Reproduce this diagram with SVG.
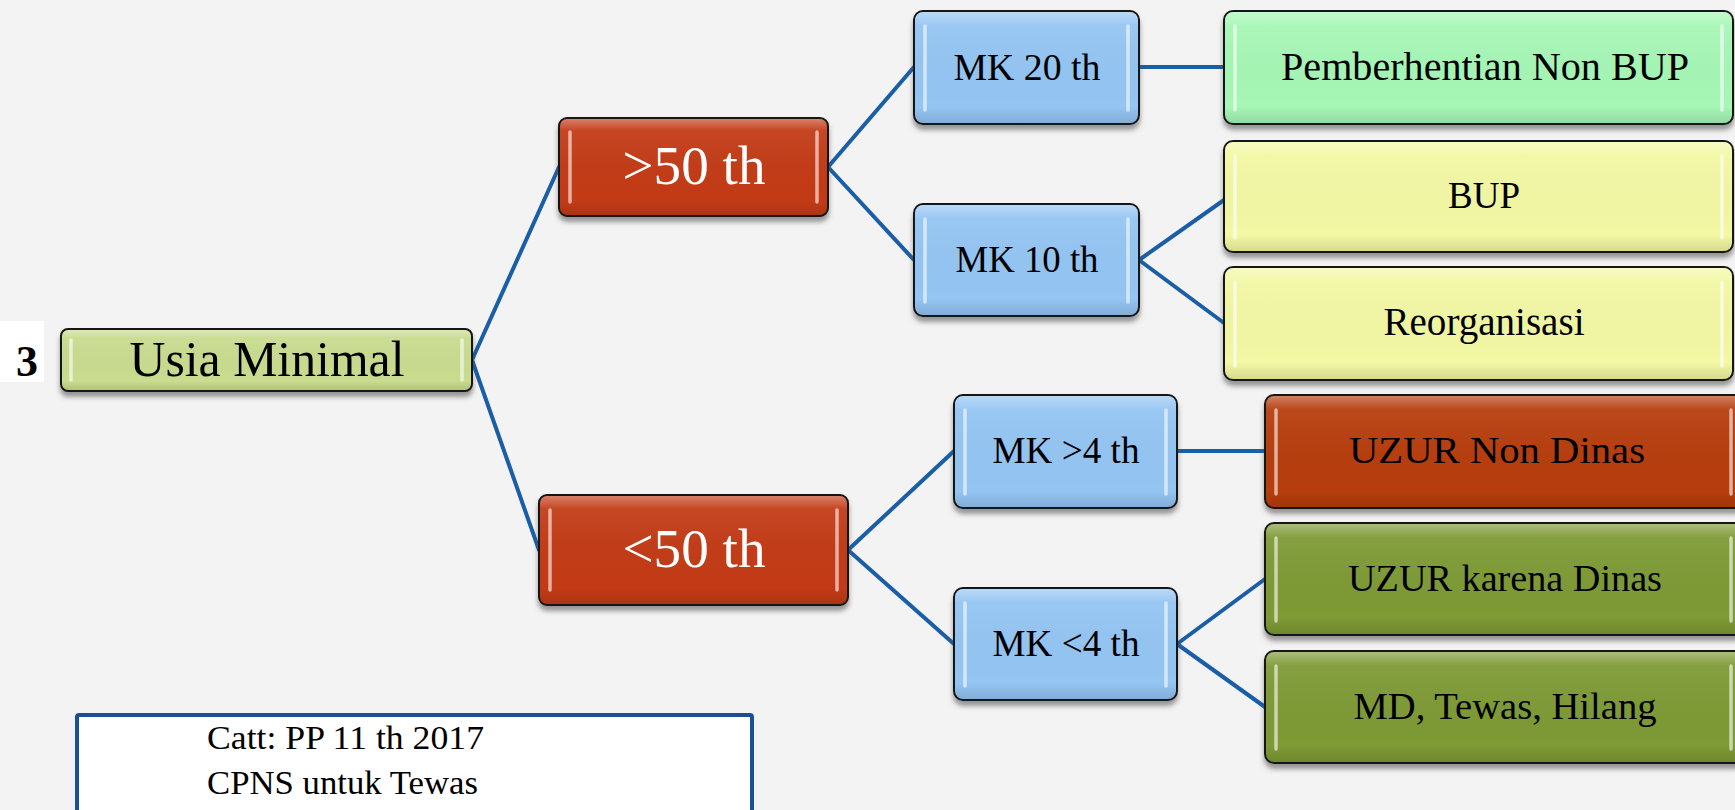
<svg xmlns="http://www.w3.org/2000/svg" width="1735" height="810" viewBox="0 0 1735 810">
  <defs>
    <filter id="shadow" x="-10%" y="-20%" width="120%" height="150%">
      <feDropShadow dx="0" dy="5" stdDeviation="2.5" flood-color="#4a4a4a" flood-opacity="0.55"/>
    </filter>
    <linearGradient id="gloss" x1="0" y1="0" x2="0" y2="1">
      <stop offset="0" stop-color="#ffffff" stop-opacity="0.35"/>
      <stop offset="0.12" stop-color="#ffffff" stop-opacity="0.06"/>
      <stop offset="0.85" stop-color="#000000" stop-opacity="0"/>
      <stop offset="1" stop-color="#000000" stop-opacity="0.12"/>
    </linearGradient>
    <style>
      .box { stroke: #141414; stroke-width: 2; }
      .gl { fill: url(#gloss); stroke: none; }
      .hl { stroke: #ffffff; stroke-opacity: 0.6; stroke-width: 3.5; stroke-linecap: round; fill: none; }
      .t { font-family: "Liberation Serif", "Times New Roman", serif; text-anchor: middle; fill: #000000; }
      .w { fill: #ffffff; }
      .link { stroke: #1a5ea8; stroke-width: 4; fill: none; stroke-linecap: round; }
      .red { fill: #c33a12; }
      .blue { fill: #94c5f3; }
      .olive { fill: #c9dc8f; }
      .mint { fill: #a6f7b6; }
      .yellow { fill: #f2f8a4; }
      .rust { fill: #b73c0b; }
      .moss { fill: #7e9a35; }
    </style>
  </defs>

  <!-- page background -->
  <rect x="0" y="0" width="1735" height="810" fill="#f3f3f3"/>

  <!-- connectors -->
  <g id="connectors">
    <line class="link" x1="472" y1="360" x2="559" y2="167"/>
    <line class="link" x1="472" y1="360" x2="539" y2="550"/>
    <line class="link" x1="828" y1="167" x2="914" y2="67"/>
    <line class="link" x1="828" y1="167" x2="914" y2="260"/>
    <line class="link" x1="1139" y1="67" x2="1224" y2="67" stroke-width="6"/>
    <line class="link" x1="1139" y1="260" x2="1224" y2="200"/>
    <line class="link" x1="1139" y1="260" x2="1224" y2="323"/>
    <line class="link" x1="848" y1="550" x2="954" y2="451"/>
    <line class="link" x1="848" y1="550" x2="954" y2="644"/>
    <line class="link" x1="1177" y1="451" x2="1265" y2="451" stroke-width="5"/>
    <line class="link" x1="1177" y1="644" x2="1265" y2="579"/>
    <line class="link" x1="1177" y1="644" x2="1265" y2="707"/>
  </g>

  <!-- item number -->
  <g id="n-number">
    <rect x="0" y="321" width="44" height="61" fill="#ffffff"/>
    <text class="t" x="27" y="376" font-size="44" font-weight="bold">3</text>
  </g>

  <!-- root -->
  <g id="n-usia">
    <rect class="box olive" x="61" y="329" width="411" height="62" rx="7" filter="url(#shadow)"/>
    <rect class="gl" x="62" y="330" width="409" height="60" rx="6"/>
    <line class="hl" x1="71" y1="340" x2="71" y2="380"/>
    <line class="hl" x1="462" y1="340" x2="462" y2="380"/>
    <text class="t" x="267" y="376" font-size="50" textLength="275" lengthAdjust="spacingAndGlyphs">Usia Minimal</text>
  </g>

  <!-- age branches -->
  <g id="n-gt50">
    <rect class="box red" x="559" y="118" width="269" height="98" rx="8" filter="url(#shadow)"/>
    <rect class="gl" x="560" y="119" width="267" height="96" rx="7"/>
    <line class="hl" x1="570" y1="132" x2="570" y2="202"/>
    <line class="hl" x1="817" y1="132" x2="817" y2="202"/>
    <text class="t w" x="694" y="184" font-size="54" textLength="143" lengthAdjust="spacingAndGlyphs">&gt;50 th</text>
  </g>

  <g id="n-lt50">
    <rect class="box red" x="539" y="495" width="309" height="110" rx="8" filter="url(#shadow)"/>
    <rect class="gl" x="540" y="496" width="307" height="108" rx="7"/>
    <line class="hl" x1="550" y1="510" x2="550" y2="590"/>
    <line class="hl" x1="837" y1="510" x2="837" y2="590"/>
    <text class="t w" x="694" y="567" font-size="54" textLength="143" lengthAdjust="spacingAndGlyphs">&lt;50 th</text>
  </g>

  <!-- service-length branches -->
  <g id="n-mk20">
    <rect class="box blue" x="914" y="11" width="225" height="113" rx="9" filter="url(#shadow)"/>
    <rect class="gl" x="915" y="12" width="223" height="111" rx="8"/>
    <line class="hl" x1="925" y1="26" x2="925" y2="110"/>
    <line class="hl" x1="1128" y1="26" x2="1128" y2="110"/>
    <text class="t" x="1027" y="80" font-size="37" textLength="147" lengthAdjust="spacingAndGlyphs">MK 20 th</text>
  </g>

  <g id="n-mk10">
    <rect class="box blue" x="914" y="204" width="225" height="112" rx="9" filter="url(#shadow)"/>
    <rect class="gl" x="915" y="205" width="223" height="110" rx="8"/>
    <line class="hl" x1="925" y1="219" x2="925" y2="302"/>
    <line class="hl" x1="1128" y1="219" x2="1128" y2="302"/>
    <text class="t" x="1027" y="272" font-size="37" textLength="143" lengthAdjust="spacingAndGlyphs">MK 10 th</text>
  </g>

  <g id="n-mkgt4">
    <rect class="box blue" x="954" y="395" width="223" height="113" rx="9" filter="url(#shadow)"/>
    <rect class="gl" x="955" y="396" width="221" height="111" rx="8"/>
    <line class="hl" x1="965" y1="410" x2="965" y2="494"/>
    <line class="hl" x1="1166" y1="410" x2="1166" y2="494"/>
    <text class="t" x="1066" y="463" font-size="37" textLength="147" lengthAdjust="spacingAndGlyphs">MK &gt;4 th</text>
  </g>

  <g id="n-mklt4">
    <rect class="box blue" x="954" y="588" width="223" height="112" rx="9" filter="url(#shadow)"/>
    <rect class="gl" x="955" y="589" width="221" height="110" rx="8"/>
    <line class="hl" x1="965" y1="603" x2="965" y2="686"/>
    <line class="hl" x1="1166" y1="603" x2="1166" y2="686"/>
    <text class="t" x="1066" y="656" font-size="37" textLength="147" lengthAdjust="spacingAndGlyphs">MK &lt;4 th</text>
  </g>

  <!-- outcomes -->
  <g id="n-pemberhentian">
    <rect class="box mint" x="1224" y="11" width="509" height="113" rx="9" filter="url(#shadow)"/>
    <rect class="gl" x="1225" y="12" width="507" height="111" rx="8"/>
    <line class="hl" x1="1235" y1="26" x2="1235" y2="110"/>
    <line class="hl" x1="1722" y1="26" x2="1722" y2="110"/>
    <text class="t" x="1485" y="80" font-size="39" textLength="408" lengthAdjust="spacingAndGlyphs">Pemberhentian Non BUP</text>
  </g>

  <g id="n-bup">
    <rect class="box yellow" x="1224" y="141" width="509" height="111" rx="9" filter="url(#shadow)"/>
    <rect class="gl" x="1225" y="142" width="507" height="109" rx="8"/>
    <line class="hl" x1="1235" y1="156" x2="1235" y2="238"/>
    <line class="hl" x1="1722" y1="156" x2="1722" y2="238"/>
    <text class="t" x="1484" y="208" font-size="38" textLength="72" lengthAdjust="spacingAndGlyphs">BUP</text>
  </g>

  <g id="n-reorganisasi">
    <rect class="box yellow" x="1224" y="267" width="509" height="113" rx="9" filter="url(#shadow)"/>
    <rect class="gl" x="1225" y="268" width="507" height="111" rx="8"/>
    <line class="hl" x1="1235" y1="282" x2="1235" y2="366"/>
    <line class="hl" x1="1722" y1="282" x2="1722" y2="366"/>
    <text class="t" x="1484" y="335" font-size="39" textLength="201" lengthAdjust="spacingAndGlyphs">Reorganisasi</text>
  </g>

  <g id="n-uzur-non-dinas">
    <rect class="box rust" x="1265" y="395" width="480" height="113" rx="9" filter="url(#shadow)"/>
    <rect class="gl" x="1266" y="396" width="478" height="111" rx="8"/>
    <line class="hl" x1="1276" y1="410" x2="1276" y2="494"/>
    <line class="hl" x1="1731" y1="410" x2="1731" y2="494"/>
    <text class="t" x="1497" y="463" font-size="38" textLength="296" lengthAdjust="spacingAndGlyphs">UZUR Non Dinas</text>
  </g>

  <g id="n-uzur-karena-dinas">
    <rect class="box moss" x="1265" y="523" width="480" height="112" rx="9" filter="url(#shadow)"/>
    <rect class="gl" x="1266" y="524" width="478" height="110" rx="8"/>
    <line class="hl" x1="1276" y1="538" x2="1276" y2="621"/>
    <line class="hl" x1="1731" y1="538" x2="1731" y2="621"/>
    <text class="t" x="1505" y="591" font-size="38" textLength="314" lengthAdjust="spacingAndGlyphs">UZUR karena Dinas</text>
  </g>

  <g id="n-md-tewas-hilang">
    <rect class="box moss" x="1265" y="651" width="480" height="112" rx="9" filter="url(#shadow)"/>
    <rect class="gl" x="1266" y="652" width="478" height="110" rx="8"/>
    <line class="hl" x1="1276" y1="666" x2="1276" y2="749"/>
    <line class="hl" x1="1731" y1="666" x2="1731" y2="749"/>
    <text class="t" x="1505" y="719" font-size="37" textLength="303" lengthAdjust="spacingAndGlyphs">MD, Tewas, Hilang</text>
  </g>

  <!-- note -->
  <g id="n-note">
    <rect x="77" y="715" width="675" height="105" rx="2" fill="#ffffff" stroke="#1a5196" stroke-width="4"/>
    <text class="t" x="207" y="749" font-size="34" text-anchor="start" style="text-anchor:start" textLength="277" lengthAdjust="spacingAndGlyphs">Catt: PP 11 th 2017</text>
    <text class="t" x="207" y="794" font-size="34" style="text-anchor:start" textLength="271" lengthAdjust="spacingAndGlyphs">CPNS untuk Tewas</text>
  </g>
</svg>
